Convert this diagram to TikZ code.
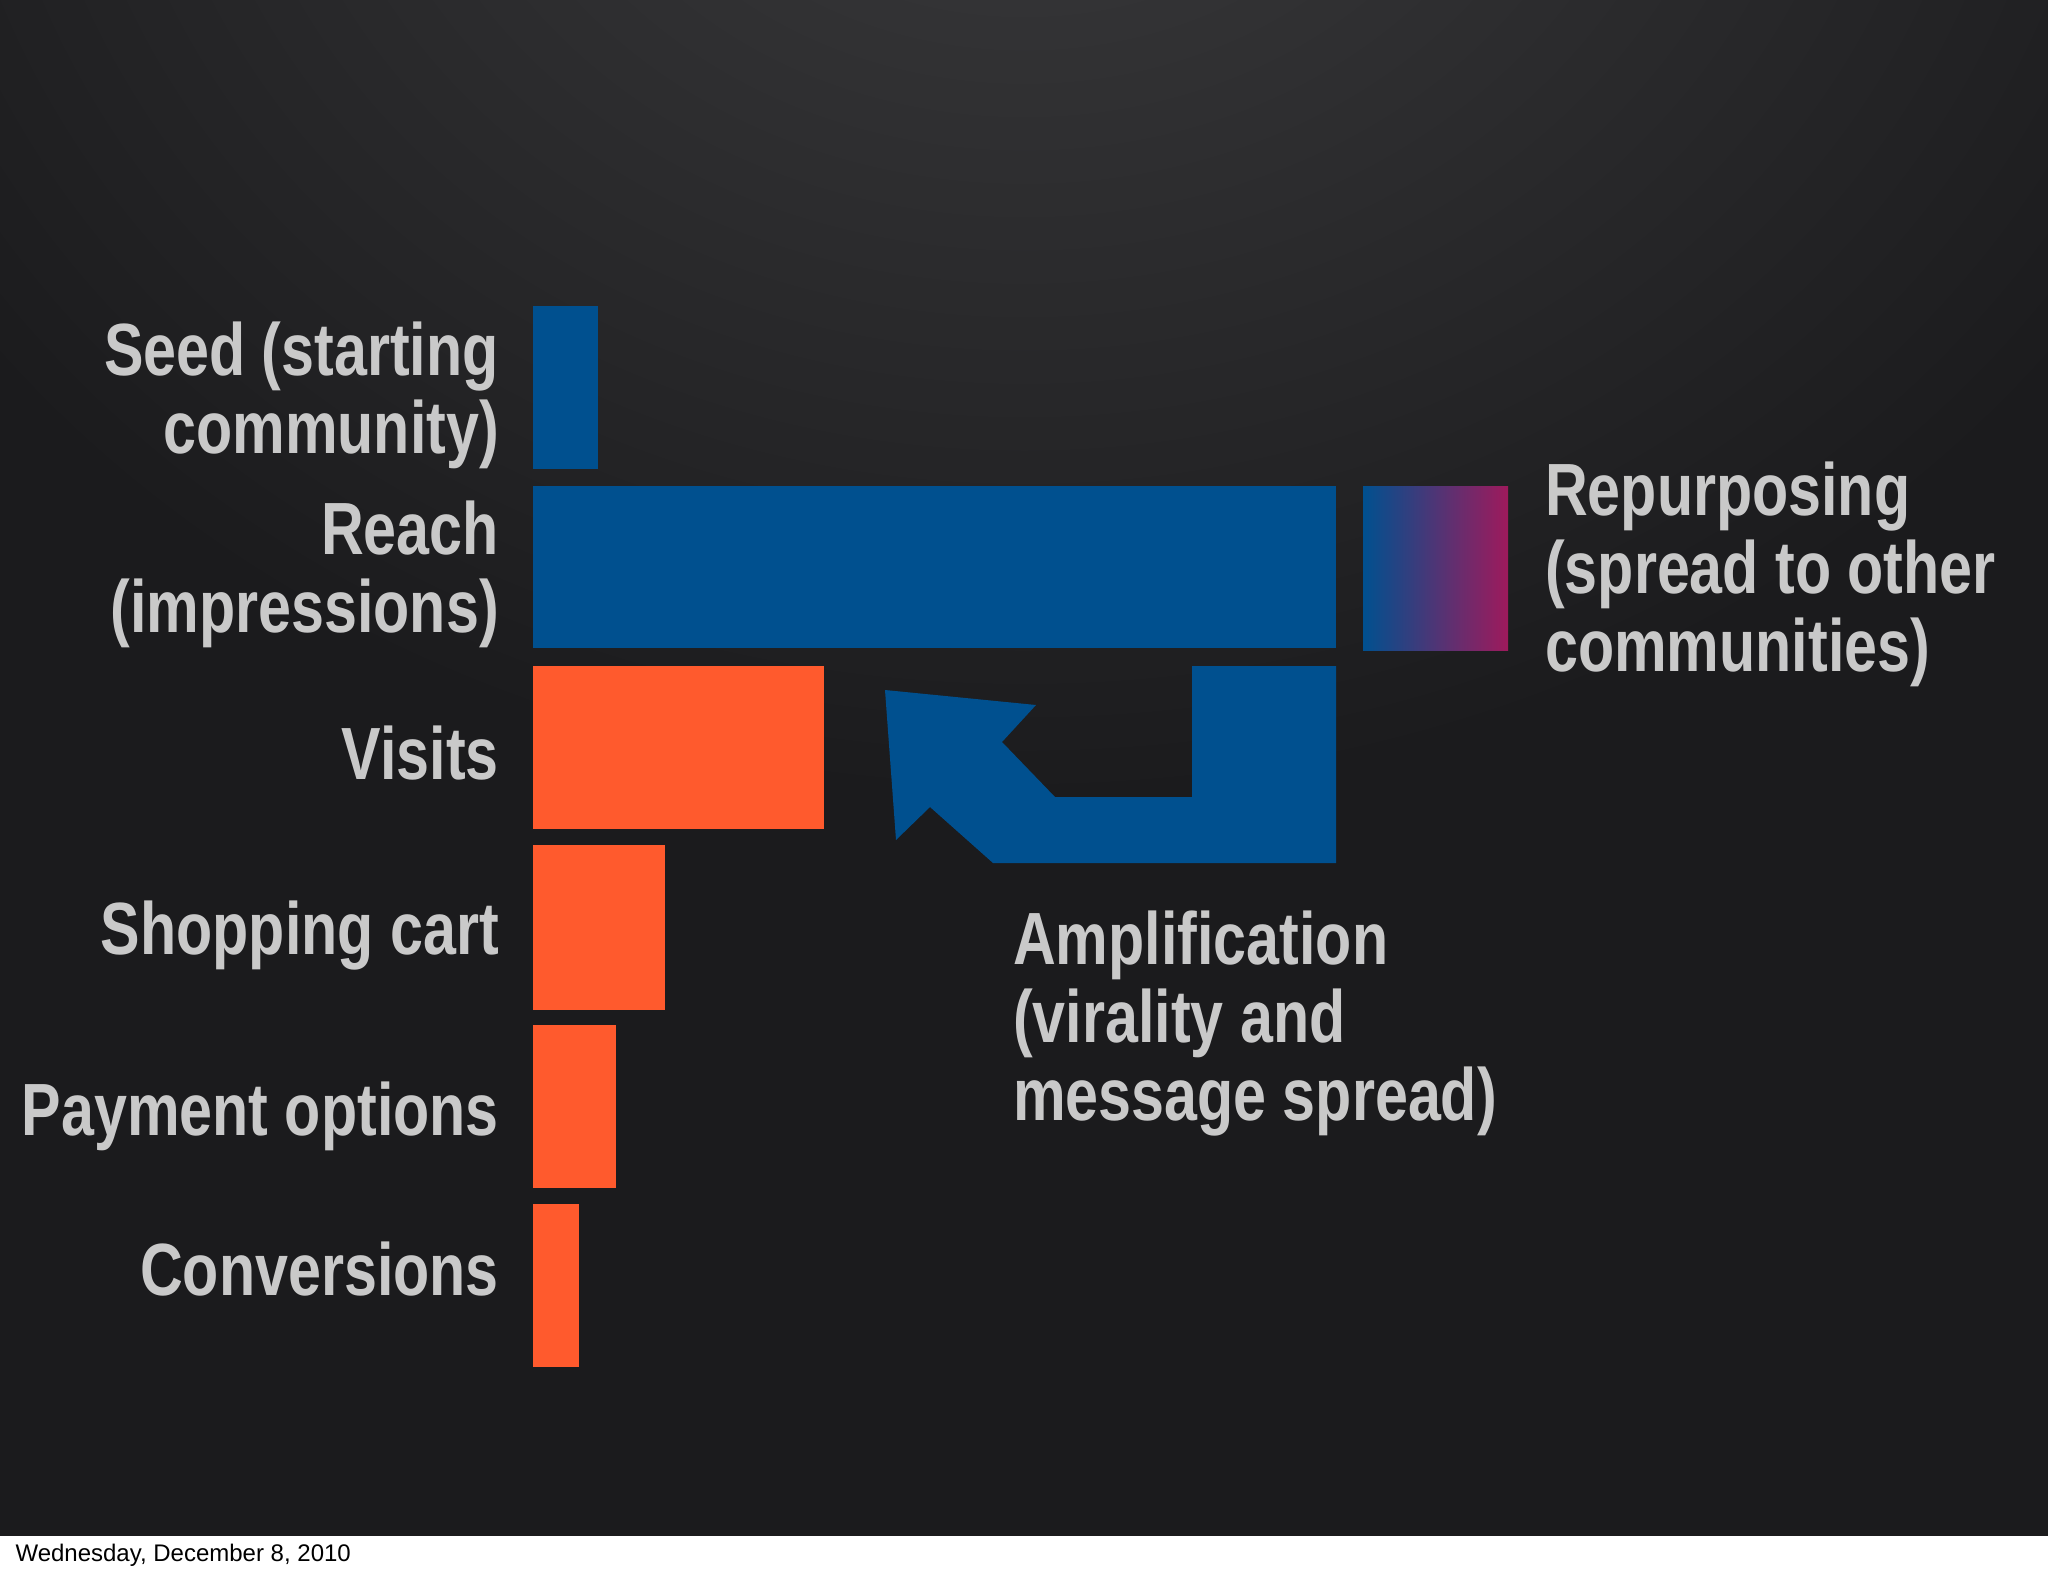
\documentclass[tikz,border=0pt]{standalone}
\usepackage{fontspec}
\setmainfont{Liberation Sans}
\newfontfamily\labfont[FakeStretch=0.80]{Liberation Sans Bold}
\begin{document}
\begin{tikzpicture}[x=1pt,y=-1pt,
  lab/.style={text=labtext,font=\labfont\fontsize{74}{78}\selectfont,inner sep=0pt},
  barb/.style={fill=barblue},
  baro/.style={fill=barorange}]
\definecolor{barblue}{HTML}{00508F}
\definecolor{barorange}{HTML}{FF5A2D}
\definecolor{magend}{HTML}{9E1A5C}
\definecolor{labtext}{HTML}{C9C9C9}
\definecolor{bgdark}{HTML}{1B1B1D}
\definecolor{bglight}{HTML}{3C3C3E}
\useasboundingbox (0,0) rectangle (2048,1576);
\fill[bgdark] (0,0) rectangle (2048,1536);
\shade[inner color=bglight,outer color=bgdark] (1024,-300) ellipse (1300 and 1100);
\fill[white] (0,1536) rectangle (2048,1576);
\node[anchor=west,font=\fontsize{24}{26}\selectfont,text=black] (foot) at (12,1555) {Wednesday, December 8, 2010};
% bars
\fill[barb] (533,306) rectangle (598,469) coordinate (seedbar);
\fill[barb] (533,486) rectangle (1336,648) coordinate (reachbar);
\shade[left color=barblue,right color=magend] (1363,486) rectangle (1508,650);
\fill[baro] (533,666) rectangle (824,829);
\fill[baro] (533,845) rectangle (665,1010);
\fill[baro] (533,1025) rectangle (616,1188);
\fill[baro] (533,1204) rectangle (579,1367);
% arrow
\fill[barb] (1336,666) -- (1336,863) -- (993,863) -- (930,807) -- (896,840) -- (885,690) -- (1036,705) -- (1002,742) -- (1055,797) -- (1192,797) -- (1192,666) -- cycle;
% labels
\node[lab,anchor=east,align=right] (seed) at (499,395) {Seed (starting\\community)};
\node[lab,anchor=east,align=right] (reach) at (499,574) {Reach\\(impressions)};
\node[lab,anchor=east] (visits) at (499,753) {Visits};
\node[lab,anchor=east] (cart) at (499,936) {Shopping cart};
\node[lab,anchor=east] (pay) at (499,1116) {Payment options};
\node[lab,anchor=east] (conv) at (499,1269) {Conversions};
\node[lab,anchor=west,align=left] (rep) at (1545,574) {Repurposing\\(spread to other\\communities)};
\node[lab,anchor=west,align=left] (amp) at (1013,1024) {Amplification\\(virality and\\message spread)};
\end{tikzpicture}
\end{document}
